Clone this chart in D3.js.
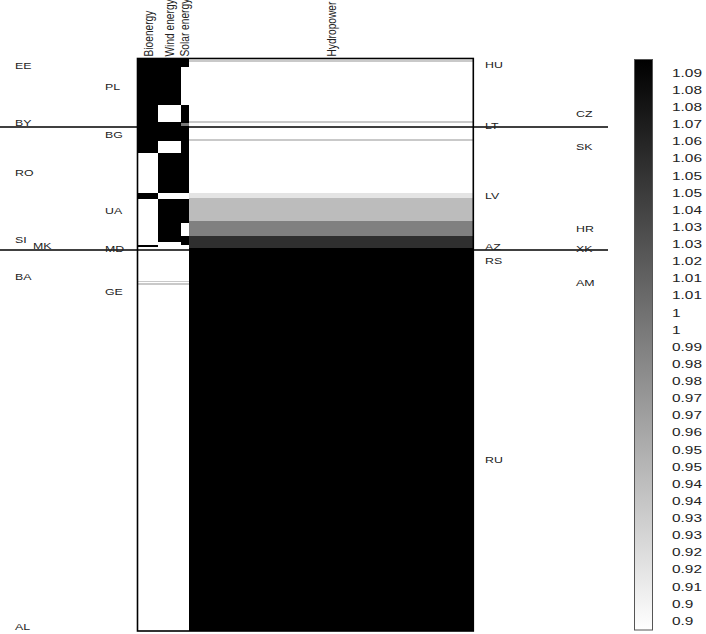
<!DOCTYPE html>
<html>
<head>
<meta charset="utf-8">
<script src="https://cdn.jsdelivr.net/npm/d3@7"></script>
<style>
body { margin: 0; background: #fff; }
text { font-family: Arial, "Liberation Sans", sans-serif; fill: #222; }
</style>
</head>
<body>
<svg width="706" height="634"></svg>
<script>
let sources = ["Bioenergy", "Wind energy", "Solar energy", "Hydropower"];
let sourceShare = [6.2, 6.7, 2.4, 84.7];

let bioBreaks = [0, 16.45, 23.49, 24.54, 32.58, 33.01, 38.78, 39.04, 39.21, 39.48, 100];
let bioValues = [1.09, 0.9, 1.09, 0.9, 1.09, 0.9, 0.94, 0.9, 0.94, 0.9];

let windBreaks = [0, 8.12, 11.04, 14.41, 16.45, 23.55, 24.59, 32.0, 38.78, 39.04, 39.21, 39.48, 100];
let windValues = [1.09, 0.9, 1.09, 0.9, 1.09, 0.9, 1.09, 0.9, 0.94, 0.9, 0.94, 0.9];

let solarBreaks = [0, 1.48, 8.12, 11.27, 11.79, 23.49, 24.54, 28.65, 31.0, 32.58, 38.78, 39.04, 39.21, 39.48, 100];
let solarValues = [1.09, 0.9, 1.09, 1.0, 1.09, 0.9, 1.09, 0.9, 1.09, 0.9, 0.94, 0.9, 0.94, 0.9];

let hydroBreaks = [0, 0.3, 0.65, 10.92, 11.35, 14.06, 14.41, 23.49, 24.45, 28.47, 31.0, 33.1, 100];
let hydroValues = [0.9, 0.94, 0.9, 0.94, 0.9, 0.94, 0.9, 0.92, 0.95, 0.995, 1.055, 1.09];

let countries = ["EE", "HU", "PL", "CZ", "BY", "LT", "BG", "SK", "RO", "LV", "UA", "HR",
                 "SI", "MK", "AZ", "MD", "XK", "RS", "BA", "AM", "GE", "RU", "AL"];
let countryPos = [1.19, 1.14, 4.98, 9.57, 11.27, 11.79, 13.24, 15.41, 19.88, 24.02, 26.64, 29.73,
                  31.70, 32.66, 32.87, 33.15, 33.22, 35.32, 38.08, 39.09, 40.73, 70.13, 99.25];
let countryLane = [0, 3, 2, 4, 0, 3, 2, 4, 0, 3, 2, 4, 0, 1, 3, 2, 4, 3, 0, 4, 2, 3, 0];

let groupBreaks = [11.97, 33.45];

let legendLabels = ["1.09", "1.08", "1.08", "1.07", "1.06", "1.06", "1.05", "1.05", "1.04", "1.03", "1.03",
                    "1.02", "1.01", "1.01", "1", "1", "0.99", "0.98", "0.98", "0.97", "0.97", "0.96",
                    "0.95", "0.95", "0.94", "0.94", "0.93", "0.93", "0.92", "0.92", "0.91", "0.9", "0.9"];
let colorMin = 0.9;
let colorMax = 1.09;

let columns = [
    {breaks: bioBreaks, values: bioValues},
    {breaks: windBreaks, values: windValues},
    {breaks: solarBreaks, values: solarValues},
    {breaks: hydroBreaks, values: hydroValues}
];

let svg = d3.select('svg');
let panelLeft = 137.5, panelRight = 473.3, panelTop = 58.5, panelBottom = 631;

let total = d3.sum(sourceShare);
let xScale = d3.scaleLinear().domain([0, total]).range([panelLeft, panelRight]);
let yScale = d3.scaleLinear().domain([0, 100]).range([panelTop, panelBottom]);
let color = d3.scaleLinear().domain([colorMin, colorMax]).range(["#ffffff", "#000000"]).clamp(true);

let cells = [];
let start = 0;
columns.forEach((c, i) => {
    for (let j = 0; j < c.values.length; j++) {
        cells.push({x0: start, x1: start + sourceShare[i], y0: c.breaks[j], y1: c.breaks[j + 1], value: c.values[j]});
    }
    start += sourceShare[i];
});

svg.append('g')
    .selectAll('rect')
    .data(cells)
    .enter().append('rect')
    .attr('x', d => xScale(d.x0))
    .attr('y', d => yScale(d.y0))
    .attr('width', d => xScale(d.x1) - xScale(d.x0))
    .attr('height', d => yScale(d.y1) - yScale(d.y0))
    .attr('fill', d => color(d.value))
    .attr('shape-rendering', 'crispEdges');

svg.append('rect')
    .attr('x', panelLeft)
    .attr('y', panelTop)
    .attr('width', panelRight - panelLeft)
    .attr('height', panelBottom - panelTop)
    .attr('fill', 'none')
    .attr('stroke', '#000')
    .attr('stroke-width', 1.6);

svg.append('g')
    .selectAll('line')
    .data(groupBreaks)
    .enter().append('line')
    .attr('x1', 0)
    .attr('x2', 608)
    .attr('y1', d => yScale(d))
    .attr('y2', d => yScale(d))
    .attr('stroke', '#000')
    .attr('stroke-width', 1.6);

let cum = d3.cumsum(sourceShare);
svg.append('g')
    .selectAll('text')
    .data(sources)
    .enter().append('text')
    .attr('transform', (d, i) => {
        let cx = xScale(cum[i] - sourceShare[i] / 2);
        return "translate(" + cx + "," + (panelTop - 2) + ") scale(1.3,1) rotate(-90)";
    })
    .attr('dy', '0.35em')
    .style('font-size', '10.2px')
    .text(d => d);

let laneX = [15, 33, 105, 485, 576];
svg.append('g')
    .selectAll('text')
    .data(countries)
    .enter().append('text')
    .attr('transform', (d, i) => "translate(" + laneX[countryLane[i]] + "," + yScale(countryPos[i]) + ") scale(1.3,1)")
    .attr('dy', '0.35em')
    .style('font-size', '9.5px')
    .text(d => d);

let barX = 634.5, barW = 18, barTop = 59.5, barBottom = 630;
let defs = svg.append('defs');
let grad = defs.append('linearGradient')
    .attr('id', 'cbar')
    .attr('x1', 0).attr('x2', 0).attr('y1', 0).attr('y2', 1);
grad.append('stop').attr('offset', '0%').attr('stop-color', color(colorMax));
grad.append('stop').attr('offset', '100%').attr('stop-color', color(colorMin));

svg.append('rect')
    .attr('x', barX)
    .attr('y', barTop)
    .attr('width', barW)
    .attr('height', barBottom - barTop)
    .attr('fill', 'url(#cbar)')
    .attr('stroke', '#555')
    .attr('stroke-width', 1);

let legendY = d3.scaleLinear().domain([0, legendLabels.length - 1]).range([73, 621]);
svg.append('g')
    .selectAll('text')
    .data(legendLabels)
    .enter().append('text')
    .attr('transform', (d, i) => "translate(672," + legendY(i) + ") scale(1.4,1)")
    .attr('dy', '0.35em')
    .style('font-size', '11px')
    .text(d => d);
</script>
</body>
</html>
